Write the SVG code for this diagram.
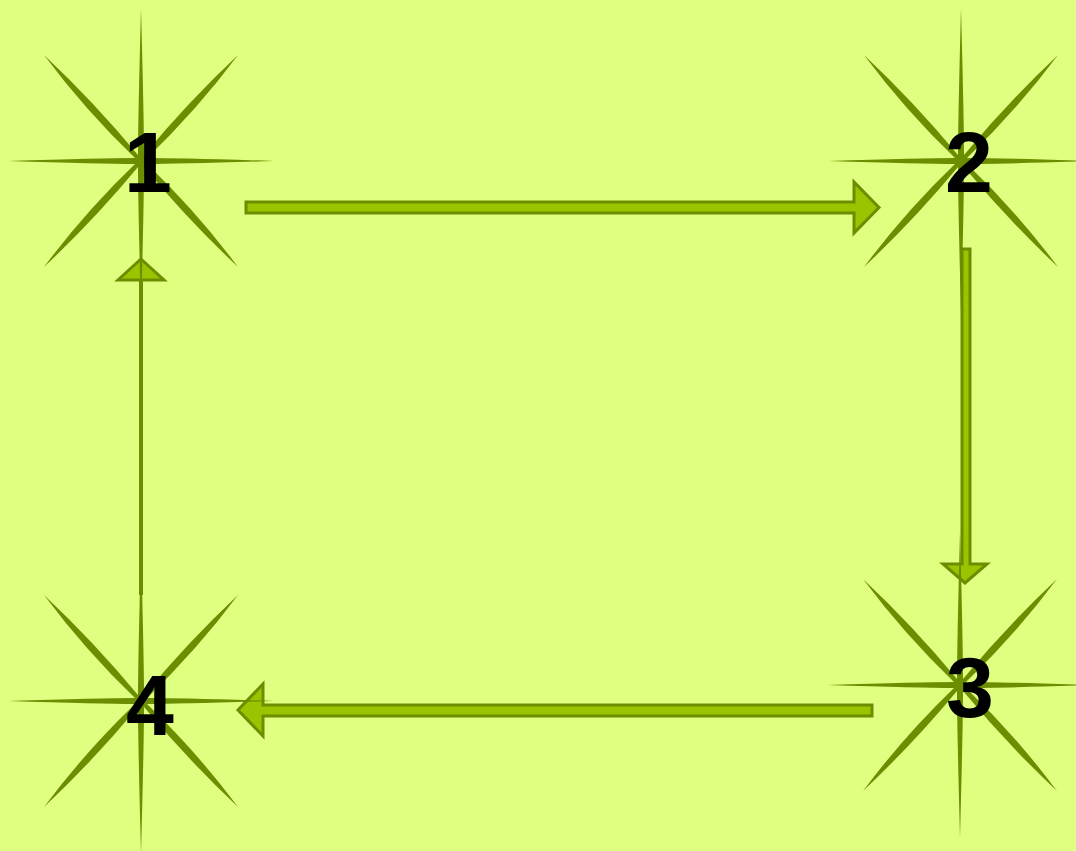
<svg xmlns="http://www.w3.org/2000/svg" width="1076" height="851" viewBox="0 0 1076 851">
<style>
.star{fill:#6b8e00}
.lbl{font-family:"Liberation Sans",Arial,sans-serif;font-weight:bold;font-size:86px;fill:#000;text-anchor:middle}
.blk{fill:#99c400;stroke:#6b8e00;stroke-width:3;stroke-linejoin:miter}
.thin{stroke:#6b8e00;stroke-width:4;fill:none}
</style>
<defs>
<path id="star" d="M0,-153 Q3,-40 3,-6 Q47,-59 97,-106 Q56,-51 6,-3 Q40,-3 133,0 Q40,3 6,3 Q56,51 97,106 Q47,59 3,6 Q3,40 0,153 Q-3,40 -3,6 Q-47,59 -97,106 Q-56,51 -6,3 Q-40,3 -133,0 Q-40,-3 -6,-3 Q-56,-51 -97,-106 Q-47,-59 -3,-6 Q-3,-40 0,-153 Z"/>
</defs>
<rect width="1076" height="851" fill="#dfff80"/>
<g id="connectors">
<polygon class="blk" points="246,202 854,202 854,182 879,207.5 854,233 854,213 246,213"/>
<polygon class="blk" points="962,249 970,249 970,564 987,564 965,583 943,564 962,564"/>
<polygon class="blk" points="872,705 263,705 263,684 238,710 263,736 263,716 872,716"/>
<line class="thin" x1="141" y1="595" x2="141" y2="281"/>
<polygon class="blk" points="141,259 164,280 118,280"/>
</g>
<g id="node1">
<use href="#star" class="star" transform="translate(141,161)"/>
<text class="lbl" x="148" y="192">1</text>
</g>
<g id="node2">
<use href="#star" class="star" transform="translate(961,161)"/>
<text class="lbl" x="969" y="192">2</text>
</g>
<g id="node3">
<use href="#star" class="star" transform="translate(960,685)"/>
<text class="lbl" x="970" y="717">3</text>
</g>
<g id="node4">
<use href="#star" class="star" transform="translate(141,701)"/>
<text class="lbl" x="150" y="735">4</text>
</g>
</svg>
